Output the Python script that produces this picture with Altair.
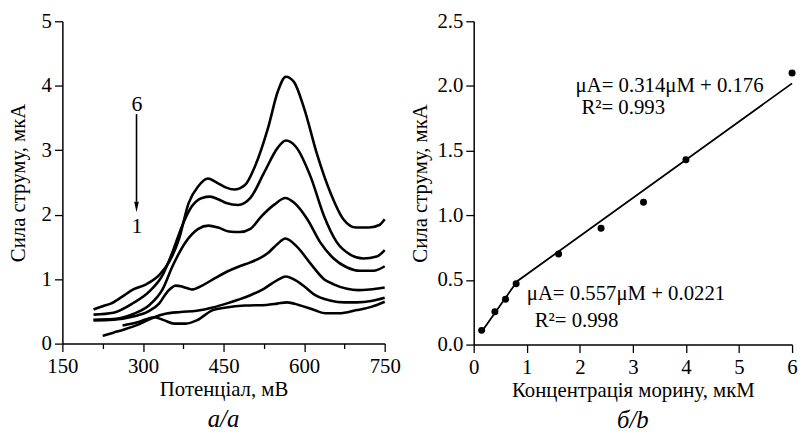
import altair as alt
import pandas as pd

FONT = "Liberation Serif"

# ---------- Panel a: voltammograms (potential mV, current uA) ----------
c6_x = [208, 225, 240, 260, 282, 306, 331, 349, 367, 385, 403, 421, 439, 455, 470, 490, 508, 533, 551, 566, 581, 600, 624, 649, 673, 697, 721, 740, 750]
c6_y = [0.53, 0.58, 0.62, 0.72, 0.84, 0.92, 1.07, 1.27, 1.62, 2.18, 2.44, 2.56, 2.49, 2.42, 2.39, 2.46, 2.74, 3.35, 3.91, 4.14, 4.06, 3.65, 2.94, 2.34, 1.93, 1.80, 1.80, 1.84, 1.93]

c5_x = [208, 245, 282, 312, 337, 355, 373, 391, 410, 425, 440, 455, 477, 500, 526, 551, 566, 585, 612, 637, 661, 686, 710, 735, 750]
c5_y = [0.45, 0.48, 0.63, 0.81, 1.07, 1.42, 1.83, 2.13, 2.26, 2.28, 2.24, 2.18, 2.15, 2.26, 2.66, 3.04, 3.15, 3.05, 2.59, 1.98, 1.57, 1.38, 1.32, 1.35, 1.45]

c4_x = [208, 245, 282, 312, 337, 355, 379, 403, 422, 440, 460, 480, 500, 520, 545, 565, 581, 606, 630, 655, 680, 704, 729, 750]
c4_y = [0.37, 0.38, 0.46, 0.60, 0.85, 1.20, 1.57, 1.78, 1.83, 1.80, 1.74, 1.73, 1.78, 1.97, 2.16, 2.26, 2.19, 1.93, 1.57, 1.32, 1.18, 1.13, 1.13, 1.20]

c3_x = [208, 245, 282, 310, 330, 345, 361, 375, 391, 410, 435, 460, 480, 500, 532, 551, 565, 587, 612, 637, 655, 680, 700, 722, 750]
c3_y = [0.36, 0.37, 0.42, 0.50, 0.62, 0.80, 0.90, 0.88, 0.84, 0.90, 1.02, 1.13, 1.20, 1.26, 1.40, 1.55, 1.63, 1.50, 1.24, 1.00, 0.92, 0.85, 0.83, 0.84, 0.87]

c2_x = [225, 245, 265, 290, 321, 340, 370, 400, 430, 455, 477, 500, 525, 551, 566, 580, 600, 619, 648, 675, 698, 725, 750]
c2_y = [0.12, 0.17, 0.22, 0.29, 0.41, 0.46, 0.49, 0.51, 0.56, 0.62, 0.68, 0.75, 0.85, 0.99, 1.04, 1.00, 0.89, 0.76, 0.67, 0.64, 0.64, 0.66, 0.71]

c1_x = [262, 290, 321, 340, 358, 380, 400, 430, 455, 490, 530, 550, 568, 590, 619, 640, 665, 698, 725, 750]
c1_y = [0.28, 0.33, 0.41, 0.36, 0.31, 0.31, 0.36, 0.52, 0.56, 0.59, 0.60, 0.62, 0.64, 0.60, 0.52, 0.47, 0.47, 0.52, 0.57, 0.65]

curve_x = [c1_x, c2_x, c3_x, c4_x, c5_x, c6_x]
curve_y = [c1_y, c2_y, c3_y, c4_y, c5_y, c6_y]

arrow_x = [288]
arrow_top = [3.56]
arrow_base = [2.2]
arrow_head = [2.12]
label_text = ["6", "1"]
label_x = [289, 289]
label_y = [3.72, 1.83]

# ---------- Panel b: calibration ----------
conc = [0.15, 0.4, 0.6, 0.8, 1.6, 2.4, 3.2, 4.0, 6.0]
cur = [0.11, 0.254, 0.35, 0.47, 0.70, 0.90, 1.10, 1.43, 2.10]
fit_x = [0.15, 0.82, 6.0]
fit_y = [0.10, 0.49, 2.02]
eq_text = ["μA= 0.314μM + 0.176", "R²= 0.993", "μA= 0.557μM + 0.0221", "R²= 0.998"]
eq_x = [1.92, 2.03, 1.0, 1.15]
eq_y = [2.0, 1.83, 0.39, 0.18]

rows = []
for i, (xs, ys) in enumerate(zip(curve_x, curve_y)):
    for x, y in zip(xs, ys):
        rows.append({"curve": str(i + 1), "E": x, "I": y})
df_curves = pd.DataFrame(rows)
df_arrow = pd.DataFrame({"x": arrow_x, "y1": arrow_top, "y2": arrow_base, "yh": arrow_head})
df_lab = pd.DataFrame({"t": label_text, "x": label_x, "y": label_y})
df_pts = pd.DataFrame({"c": conc, "i": cur})
df_fit = pd.DataFrame({"c": fit_x, "i": fit_y})
df_eq = pd.DataFrame({"t": eq_text, "x": eq_x, "y": eq_y})

W1, H1 = 326, 326
W2, H2 = 322, 327

common_axis = dict(
    grid=False, domainColor="black", domainWidth=1.5, tickColor="black", tickWidth=1.3,
    labelFont=FONT, labelFontSize=21, labelColor="black", titleFont=FONT, titleFontSize=21,
    titleColor="black", titleFontWeight="normal", labelOverlap=False,
)

# left axes
xa = alt.X("E:Q", scale=alt.Scale(domain=[150, 750], nice=False),
           axis=alt.Axis(values=list(range(150, 751, 75)), title="Потенціал, мВ",
                         labelExpr="datum.value % 150 === 0 ? format(datum.value, 'd') : ''",
                         tickSize={"condition": {"test": "datum.value % 150 === 0", "value": 8}, "value": 5},
                         labelFlush=False, labelPadding=4, titleY=46, titleBaseline="middle", **common_axis))
ya = alt.Y("I:Q", scale=alt.Scale(domain=[0, 5], nice=False),
           axis=alt.Axis(values=[v / 2 for v in range(0, 11)], title="Сила струму, мкА",
                         labelExpr="datum.value % 1 === 0 ? format(datum.value, 'd') : ''",
                         tickSize={"condition": {"test": "datum.value % 1 === 0", "value": 8}, "value": 5},
                         labelPadding=3, titleX=-44, titleY=H1 / 2, titleBaseline="middle", **common_axis))

curves = alt.Chart(df_curves).mark_line(color="black", strokeWidth=2.6, interpolate="monotone").encode(
    x=xa, y=ya, detail="curve:N")
shaft = alt.Chart(df_arrow).mark_rule(color="black", strokeWidth=1.6).encode(
    x="x:Q", y="y1:Q", y2="y2:Q")
head = alt.Chart(df_arrow).mark_point(shape="M-0.45,-1L0.45,-1L0,1Z", filled=True, color="black",
                                      opacity=1, size=110).encode(x="x:Q", y="yh:Q")
labs = alt.Chart(df_lab).mark_text(font=FONT, fontSize=22, color="black").encode(
    x="x:Q", y="y:Q", text="t:N")

left = alt.layer(curves, shaft, head, labs).properties(
    width=W1, height=H1,
    title=alt.TitleParams("а/a", orient="bottom", font=FONT, fontStyle="italic", fontSize=25,
                          fontWeight="normal", color="black", offset=8, anchor="middle", frame="group"))

# right axes
xb = alt.X("c:Q", scale=alt.Scale(domain=[0, 6], nice=False),
           axis=alt.Axis(values=[v / 2 for v in range(0, 13)], title="Концентрація морину, мкМ",
                         labelExpr="datum.value % 1 === 0 ? format(datum.value, 'd') : ''",
                         tickSize={"condition": {"test": "datum.value % 1 === 0", "value": 8}, "value": 5},
                         labelFlush=False, labelPadding=4, titleY=46, titleBaseline="middle", **common_axis))
yb = alt.Y("i:Q", scale=alt.Scale(domain=[0, 2.5], nice=False),
           axis=alt.Axis(values=[v / 4 for v in range(0, 11)], title="Сила струму, мкА",
                         labelExpr="abs(datum.value*2 - round(datum.value*2)) < 0.001 ? format(datum.value, '.1f') : ''",
                         tickSize={"condition": {"test": "abs(datum.value*2 - round(datum.value*2)) < 0.001", "value": 8}, "value": 5},
                         labelPadding=3, titleX=-54, titleY=H2 / 2, titleBaseline="middle", **common_axis))

fit = alt.Chart(df_fit).mark_line(color="black", strokeWidth=1.8).encode(x=xb, y=yb)
pts = alt.Chart(df_pts).mark_circle(color="black", opacity=1, size=50).encode(x="c:Q", y="i:Q")
eqs = alt.Chart(df_eq).mark_text(font=FONT, fontSize=21, color="black", align="left", baseline="middle").encode(
    x="x:Q", y="y:Q", text="t:N")

right = alt.layer(fit, pts, eqs).properties(
    width=W2, height=H2,
    title=alt.TitleParams("б/b", orient="bottom", font=FONT, fontStyle="italic", fontSize=25,
                          fontWeight="normal", color="black", offset=8, anchor="middle", frame="group"))

chart = alt.hconcat(left, right, spacing=90, bounds="flush").properties(padding=0).configure_view(stroke=None)

chart.save("out.html", embed_options={"renderer": "svg", "actions": False})
